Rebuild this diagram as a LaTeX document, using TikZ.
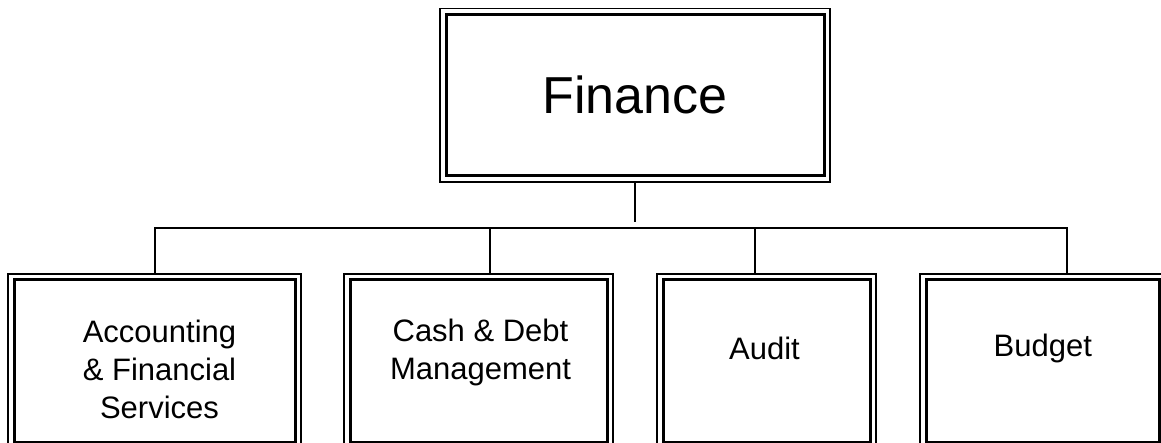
\documentclass[tikz,border=0pt]{standalone}
\usepackage{fontspec}
\setmainfont{Liberation Sans}
\usetikzlibrary{positioning}

\begin{document}
\begin{tikzpicture}
        [x=1pt, y=1pt,
         unit/.style={draw, line width=3pt, outer sep=0pt, inner sep=0pt,
                      minimum height=162.5pt},
         frame/.style={line width=1.8pt},
         caption/.style={align=center, font=\fontsize{31}{38}\selectfont},
         link/.style={line width=2pt, shorten >=6pt}]
        \useasboundingbox (0,0) rectangle (1161,443);
        \node[unit, minimum width=378pt, minimum height=161.5pt] (fin) at (635,347.75) {};
        \node[unit, minimum width=281pt] (acc) at (154.5,82) {};
        \node[unit, minimum width=257pt] (cash) at (478.5,82) {};
        \node[unit, minimum width=207pt] (aud) at (766.5,82) {};
        \node[unit, minimum width=233.5pt] (bud) at (1042.75,82) {};

        % thin outer frames
        \foreach \n in {fin, acc, cash, aud, bud}
            \draw[frame] ([shift={(-6pt,-6pt)}]\n.south west) rectangle ([shift={(6pt,6pt)}]\n.north east);

        \node[font=\fontsize{52}{60}\selectfont] (fintxt) at (fin.center) {Finance};
        \node[caption] (acctxt) at ([xshift=5pt, yshift=-8pt]acc.center) {Accounting\\ \& Financial\\ Services};
        \node[caption] (cashtxt) at ([xshift=2pt, yshift=9pt]cash.center) {Cash \& Debt\\ Management};
        \node[caption] (audtxt) at ([xshift=-2pt, yshift=13pt]aud.center) {Audit};
        \node[caption] (budtxt) at ([yshift=13pt]bud.center) {Budget};

        % bus between the head and the four units
        \coordinate (bus) at (635,215);
        \draw[link, shorten <=6pt] (fin.south) -- (bus);
        \draw[link] (bus) -| (acc.north);
        \draw[link] (bus) -| ([xshift=11.5pt]cash.north);
        \draw[link] (bus) -| ([xshift=-12pt]aud.north);
        \draw[link] (bus) -| ([xshift=24.25pt]bud.north);
\end{tikzpicture}
\end{document}
